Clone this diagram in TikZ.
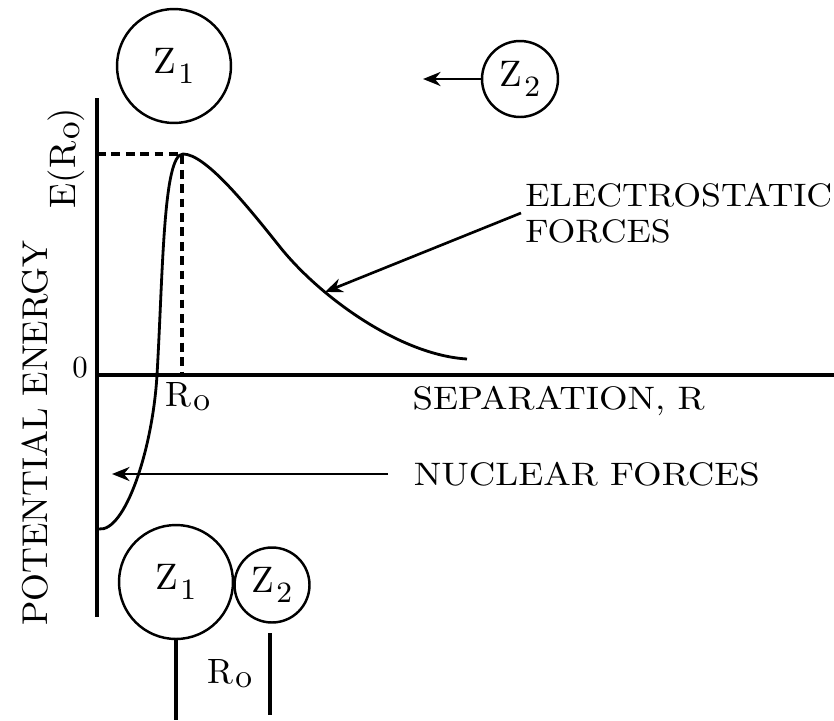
\documentclass[tikz,border=0pt]{standalone}
\usepackage{graphicx}
\usetikzlibrary{arrows.meta,positioning}
\newcommand{\zsub}[1]{\kern0.5pt\raisebox{-2.8pt}{\fontsize{8}{8}\selectfont#1}}
\newcommand{\rsub}[1]{\kern0.5pt\raisebox{-1.2pt}{\fontsize{9.5}{9.5}\selectfont#1}}
\newcommand{\zlab}[1]{\scalebox{2.1}{\fontsize{10}{10}\selectfont Z\zsub{#1}}}
\tikzset{
  axisline/.style={line width=1.8pt},
  curveline/.style={line width=1.6pt},
  guide/.style={line width=2pt,dash pattern=on 5pt off 3.2pt},
  nucleus/.style={draw,circle,line width=1.4pt,inner sep=0pt},
  pointer/.style={line width=1.5pt,-{Stealth[length=10pt,width=8pt]}},
  caption/.style={font=\fontsize{10}{11}\selectfont,scale=1.85},
}

\begin{document}
\begin{tikzpicture}[x=0.02cm,y=-0.02cm]
  \useasboundingbox (0,0) rectangle (834,720);
  % Approaching nuclei
  \node[nucleus,minimum size=2.28cm] (topza) at (174,66) {\zlab{1}};
  \node[nucleus,minimum size=1.52cm] (topzb) at (520,79) {\zlab{2}};
  \coordinate (pushend) at (423,79);
  \draw[pointer] (topzb) -- (pushend);
  % Axes
  \coordinate (origin) at (97,375);
  \coordinate (ytop) at (97,98);
  \coordinate (ybot) at (97,617);
  \coordinate (xend) at (834,375);
  \draw[axisline] (ytop) -- (ybot);
  \draw[axisline] (origin) -- (xend);
  % Barrier height
  \coordinate (peak) at (182,154);
  \draw[guide] (peak -| origin) -- (peak) -- (peak |- origin);
  % Potential curve
  \coordinate (well) at (99,529);
  \coordinate (cross) at (157,375);
  \coordinate (bend) at (280,247);
  \coordinate (tail) at (467,359);
  \draw[curveline] (well) .. controls (125,532) and (152.6,450) .. (cross)
    .. controls (163,273) and (163,154) .. (183,154)
    .. controls (205,154) and (245,203) .. (bend)
    .. controls (320,297) and (400,355) .. (tail);
  % Axis labels
  \node[font=\fontsize{10}{10}\selectfont,scale=1.75] (zero) at (80,368) {0};
  \node[font=\fontsize{10}{11}\selectfont,scale=2.04,rotate=90,anchor=base,
        inner sep=0pt] (ylabel) at (47,433) {POTENTIAL ENERGY};
  \node[font=\fontsize{10}{11}\selectfont,scale=2.1,rotate=90,anchor=base,
        inner sep=0pt] (peaklabel) at (75,158) {E(R\rsub{o})};
  \node[font=\fontsize{10}{11}\selectfont,scale=2,anchor=base,inner sep=0pt]
    (rmark) at (188,406) {R\rsub{o}};
  \node[caption,anchor=base west,inner sep=0pt,xscale=1.13]
    (seplabel) at (412,409) {SEPARATION, R};
  % Forces
  \node[caption,align=left,anchor=west,inner sep=1pt,xscale=1.1]
    (eslabel) at (521,213) {ELECTROSTATIC\\FORCES};
  \coordinate (estip) at (325,292);
  \draw[pointer] (eslabel.west) -- (estip);
  \node[caption,anchor=west,inner ysep=0pt,inner xsep=0.24cm,xscale=1.13]
    (nuclabel) at (388,474) {NUCLEAR FORCES};
  \coordinate (nuctip) at (112,474);
  \draw[pointer] (nuclabel.west) -- (nuctip);
  % Nuclei in contact
  \node[nucleus,minimum size=2.28cm] (botza) at (176,582) {\zlab{1}};
  \node[nucleus,minimum size=1.5cm] (botzb) at (272,585) {\zlab{2}};
  \coordinate (sepfoot) at (176,720);
  \coordinate (septop) at (270,633);
  \coordinate (sepbot) at (270,715);
  \draw[axisline] (botza.south) -- (sepfoot);
  \draw[axisline] (septop) -- (sepbot);
  \node[font=\fontsize{10}{11}\selectfont,scale=2,anchor=base,inner sep=0pt]
    (gaplabel) at (230,683) {R\rsub{o}};
\end{tikzpicture}
\end{document}
